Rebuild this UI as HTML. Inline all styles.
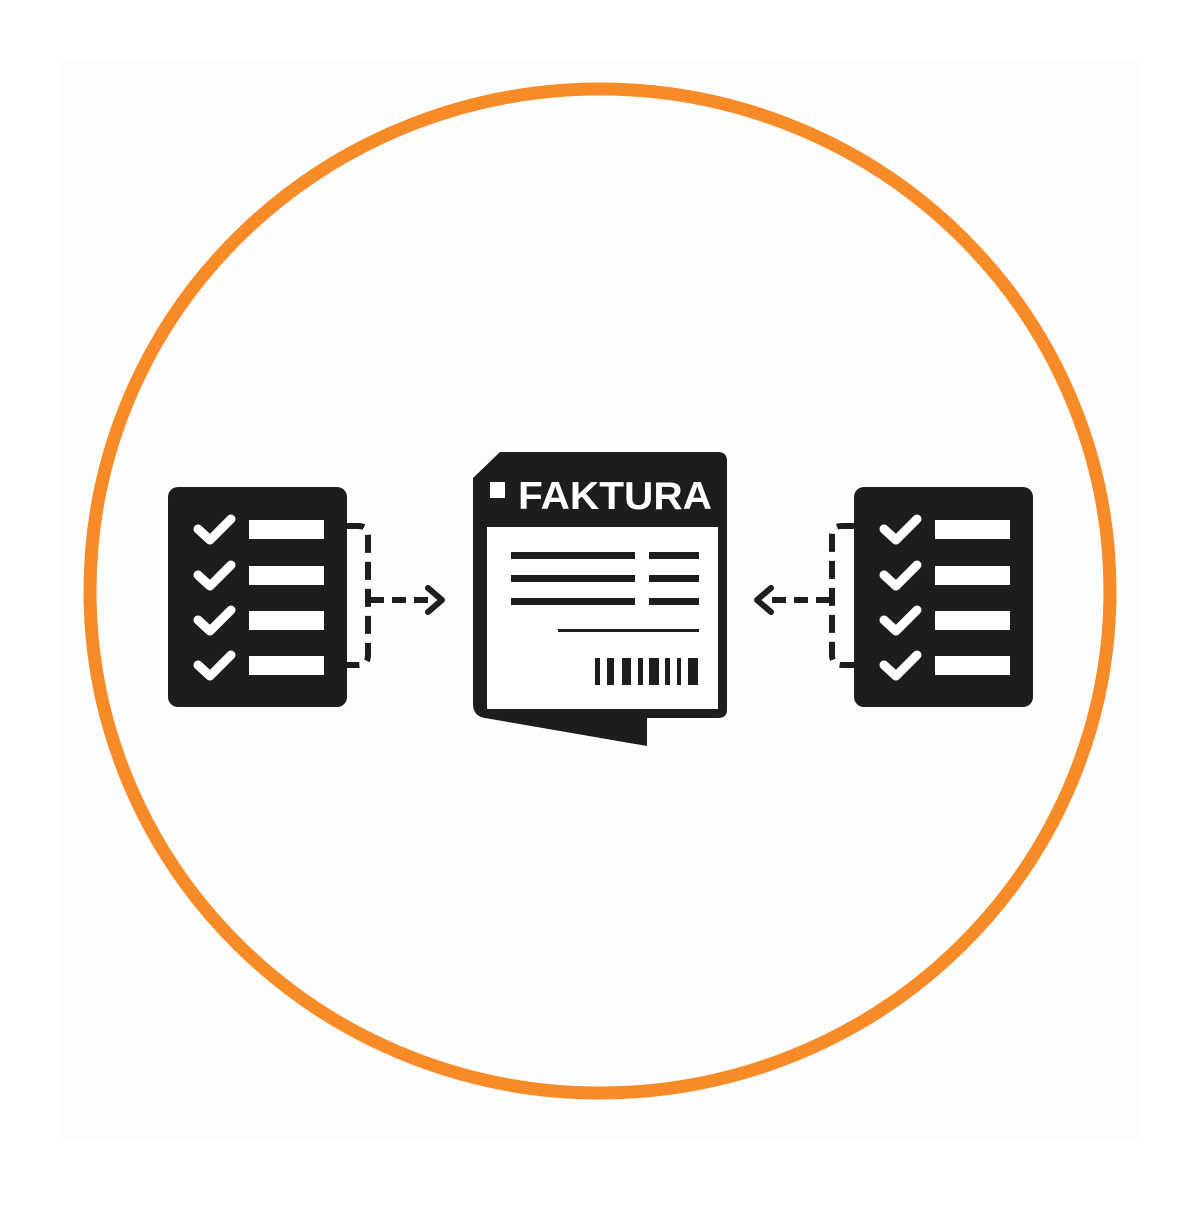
<!DOCTYPE html>
<html><head><meta charset="utf-8"><style>html,body{margin:0;padding:0;background:#fff}</style></head>
<body>
<svg width="1200" height="1200" viewBox="0 0 1200 1200" xmlns="http://www.w3.org/2000/svg">
<rect width="1200" height="1200" fill="#ffffff"/>
<rect x="60" y="60" width="1080" height="1080" fill="#fdfdfd"/>
<ellipse cx="600" cy="591" rx="510" ry="502" fill="none" stroke="#F68B28" stroke-width="13"/>

<defs>
<g id="chk">
<rect x="0" y="0" width="179" height="220" rx="10" fill="#1d1d1d"/>
<g fill="#fff">
<rect x="81" y="33" width="75" height="19"/>
<rect x="81" y="79" width="75" height="19"/>
<rect x="81" y="124" width="75" height="19"/>
<rect x="81" y="169" width="75" height="19"/>
</g>
<g fill="none" stroke="#fff" stroke-width="9" stroke-linecap="round" stroke-linejoin="round">
<path d="M30 42 L42 53 L63 32"/>
<path d="M30 88 L42 99 L63 78"/>
<path d="M30 133 L42 144 L63 123"/>
<path d="M30 178 L42 189 L63 168"/>
</g>
</g>
</defs>

<use href="#chk" x="168" y="487"/>
<use href="#chk" x="854" y="487"/>

<g fill="none" stroke="#1d1d1d" stroke-width="6">
<path d="M346 526 H358 Q368 526 368 536 V655 Q368 665 358 665 H346" stroke-dasharray="18 9"/>
<path d="M370 600 H432" stroke-dasharray="14 8"/>
<path d="M428 588 L442 600 L428 612" stroke-linecap="round" stroke-linejoin="round"/>
</g>
<g fill="none" stroke="#1d1d1d" stroke-width="6">
<path d="M855 526 H842 Q832 526 832 536 V655 Q832 665 842 665 H855" stroke-dasharray="18 9"/>
<path d="M830 600 H766" stroke-dasharray="14 8"/>
<path d="M771 588 L757 600 L771 612" stroke-linecap="round" stroke-linejoin="round"/>
</g>

<path d="M500 452 H718 Q727 452 727 461 V710 Q727 718 718 718 H647 V746 L485 718 Q473 716 473 704 V478 Z" fill="#1d1d1d"/>
<rect x="487" y="527" width="231" height="182" fill="#fff"/>
<rect x="490" y="482" width="15" height="16" fill="#fff"/>
<text x="518" y="509" textLength="194" lengthAdjust="spacingAndGlyphs" font-family="Liberation Sans, sans-serif" font-weight="bold" font-size="39" fill="#fff">FAKTURA</text>
<g fill="#1d1d1d">
<rect x="511" y="552" width="124" height="7"/>
<rect x="649" y="552" width="50" height="7"/>
<rect x="511" y="575" width="124" height="7"/>
<rect x="649" y="575" width="50" height="7"/>
<rect x="511" y="598" width="124" height="7"/>
<rect x="649" y="598" width="50" height="7"/>
<rect x="558" y="629" width="141" height="3"/>
<rect x="595" y="658" width="5" height="27"/>
<rect x="607" y="658" width="7" height="27"/>
<rect x="622" y="658" width="9" height="27"/>
<rect x="638" y="658" width="5" height="27"/>
<rect x="649" y="658" width="10" height="27"/>
<rect x="665" y="658" width="5" height="27"/>
<rect x="677" y="658" width="4" height="27"/>
<rect x="688" y="658" width="10" height="27"/>
</g>
</svg>
</body></html>
